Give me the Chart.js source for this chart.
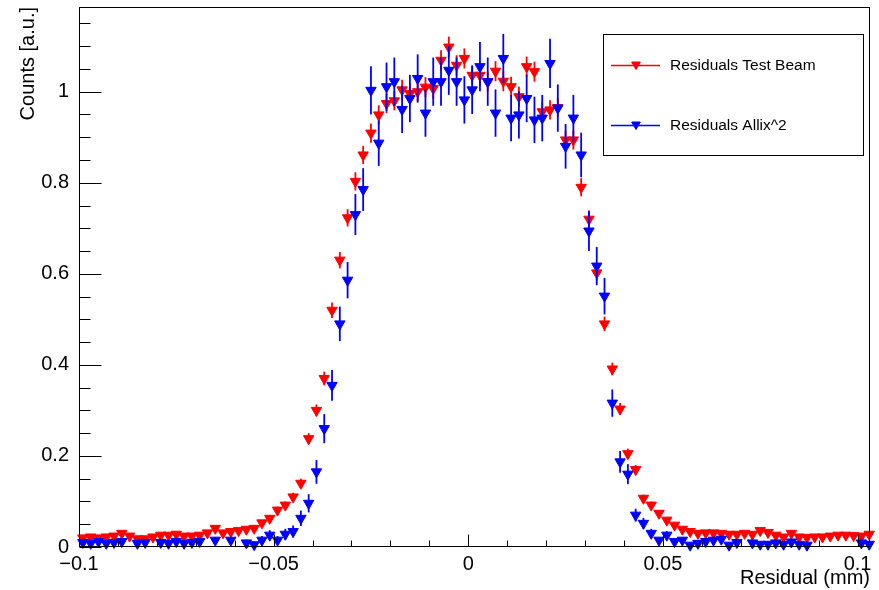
<!DOCTYPE html>
<html>
<head>
<meta charset="utf-8">
<script src="https://cdn.jsdelivr.net/npm/chart.js@4/dist/chart.umd.min.js"></script>
<style>
  html, body { margin: 0; padding: 0; background: #fff; }
  canvas { display: block; }
</style>
</head>
<body>
<canvas id="chart" width="879" height="590"></canvas>
<script>
// Histogram binning: 102 bins of width 0.002 mm starting at -0.1 mm
const BIN_LOW = -0.1;
const BIN_WIDTH = 0.002;

// Residuals Test Beam (normalised counts per bin)
const testBeamCounts = [
  0.020, 0.022, 0.020, 0.022, 0.024, 0.030, 0.024, 0.018, 0.018, 0.022,
  0.026, 0.026, 0.028, 0.024, 0.024, 0.026, 0.031, 0.041, 0.031, 0.034,
  0.036, 0.039, 0.041, 0.053, 0.063, 0.081, 0.092, 0.110, 0.140, 0.238,
  0.300, 0.370, 0.520, 0.630, 0.723, 0.803, 0.861, 0.909, 0.949, 0.974,
  0.980, 1.004, 0.996, 1.000, 1.010, 1.007, 1.069, 1.098, 1.058, 1.073,
  1.036, 1.036, 1.022, 1.045, 1.023, 1.011, 0.989, 1.055, 1.044, 0.956,
  0.960, 0.965, 0.894, 0.894, 0.790, 0.720, 0.602, 0.490, 0.391, 0.303,
  0.205, 0.170, 0.107, 0.092, 0.074, 0.059, 0.048, 0.039, 0.034, 0.030,
  0.031, 0.031, 0.030, 0.028, 0.028, 0.030, 0.028, 0.036, 0.032, 0.026,
  0.022, 0.030, 0.022, 0.021, 0.022, 0.022, 0.024, 0.026, 0.026, 0.025,
  0.024, 0.028
];
const testBeamErrors = [
  0.005, 0.005, 0.005, 0.005, 0.005, 0.005, 0.005, 0.005, 0.005, 0.005,
  0.005, 0.005, 0.005, 0.005, 0.005, 0.005, 0.005, 0.005, 0.005, 0.005,
  0.005, 0.005, 0.005, 0.006, 0.007, 0.008, 0.008, 0.009, 0.010, 0.012,
  0.013, 0.015, 0.017, 0.018, 0.019, 0.020, 0.020, 0.021, 0.021, 0.021,
  0.021, 0.022, 0.022, 0.022, 0.022, 0.022, 0.022, 0.023, 0.022, 0.022,
  0.022, 0.022, 0.022, 0.022, 0.022, 0.022, 0.022, 0.022, 0.022, 0.021,
  0.021, 0.021, 0.021, 0.021, 0.020, 0.019, 0.017, 0.016, 0.014, 0.013,
  0.011, 0.010, 0.008, 0.008, 0.007, 0.006, 0.006, 0.005, 0.005, 0.005,
  0.005, 0.005, 0.005, 0.005, 0.005, 0.005, 0.005, 0.005, 0.005, 0.005,
  0.005, 0.005, 0.005, 0.005, 0.005, 0.005, 0.005, 0.005, 0.005, 0.005,
  0.005, 0.005
];

// Residuals Allix^2 (normalised counts per bin; null = empty bin)
const allixCounts = [
  0.010, 0.008, 0.012, 0.008, 0.010, 0.012, null,  0.008, 0.010, null,
  0.010, 0.008, 0.012, 0.008, 0.010, 0.012, null,  0.015, null,  0.015,
  null,  0.009, 0.005, 0.015, 0.026, 0.015, 0.028, 0.034, 0.063, 0.096,
  0.165, 0.260, 0.355, 0.490, 0.586, 0.730, 0.785, 1.003, 0.887, 1.011,
  1.022, 0.961, 0.985, 1.029, 0.953, 1.022, 1.022, 1.047, 1.022, 0.982,
  1.004, 1.055, 1.022, 0.953, 1.073, 0.942, 0.949, 0.985, 0.938, 0.942,
  1.062, 0.964, 0.880, 0.942, 0.861, 0.694, 0.617, 0.551, 0.316, 0.187,
  0.160, 0.070, 0.052, 0.030, 0.015, 0.026, 0.012, 0.015, 0.004, 0.008,
  0.012, 0.015, 0.017, 0.004, 0.010, null,  0.009, 0.006, 0.006, 0.009,
  0.006, 0.011, 0.006, 0.004, null,  null,  null,  null,  null,  null,
  0.009, 0.006
];
const allixErrors = [
  0.007, 0.007, 0.007, 0.007, 0.007, 0.007, null,  0.007, 0.007, null,
  0.007, 0.007, 0.007, 0.007, 0.007, 0.007, null,  0.007, null,  0.007,
  null,  0.007, 0.007, 0.009, 0.011, 0.009, 0.012, 0.013, 0.017, 0.020,
  0.026, 0.032, 0.034, 0.038, 0.040, 0.045, 0.047, 0.053, 0.050, 0.053,
  0.053, 0.052, 0.052, 0.053, 0.052, 0.053, 0.053, 0.054, 0.053, 0.052,
  0.053, 0.054, 0.053, 0.052, 0.054, 0.051, 0.052, 0.052, 0.051, 0.051,
  0.054, 0.052, 0.049, 0.051, 0.049, 0.044, 0.042, 0.040, 0.030, 0.024,
  0.022, 0.014, 0.012, 0.010, 0.007, 0.009, 0.007, 0.007, 0.007, 0.007,
  0.007, 0.007, 0.007, 0.007, 0.007, null,  0.007, 0.007, 0.007, 0.007,
  0.007, 0.007, 0.007, 0.007, null,  null,  null,  null,  null,  null,
  0.007, 0.007
];

// Axis ticks and labels
const xMajorTicks = [-0.1, -0.05, 0, 0.05, 0.1];
const xTickLabels = ['\u22120.1', '\u22120.05', '0', '0.05', '0.1'];
const xMinorTicks = [-0.09, -0.08, -0.07, -0.06, -0.04, -0.03, -0.02, -0.01,
                     0.01, 0.02, 0.03, 0.04, 0.06, 0.07, 0.08, 0.09];
const yMajorTicks = [0, 0.2, 0.4, 0.6, 0.8, 1];
const yTickLabels = ['0', '0.2', '0.4', '0.6', '0.8', '1'];
const yMinorTicks = [0.05, 0.1, 0.15, 0.25, 0.3, 0.35, 0.45, 0.5, 0.55, 0.65, 0.7,
                     0.75, 0.85, 0.9, 0.95, 1.05, 1.1, 1.15];

const seriesLabels = ['Residuals Test Beam', 'Residuals Allix^2'];
const seriesColors = ['#ff0000', '#0000ff'];

const FONT = '"Liberation Sans", Arial, Helvetica, sans-serif';

function toPoints(counts) {
  return counts.map((c, i) => ({ x: BIN_LOW + BIN_WIDTH * (i + 0.5), y: c }));
}

// Vertical error bars, drawn right after each dataset so later series sit on top
const errorBarPlugin = {
  id: 'errorBars',
  afterDatasetDraw(chart, args) {
    const ds = chart.data.datasets[args.index];
    if (!ds.errors) return;
    const { ctx, chartArea } = chart;
    const yScale = chart.scales.y;
    ctx.save();
    ctx.beginPath();
    ctx.rect(chartArea.left, chartArea.top, chartArea.right - chartArea.left, chartArea.bottom - chartArea.top);
    ctx.clip();
    ctx.strokeStyle = ds.borderColor;
    ctx.lineWidth = 1.8;
    args.meta.data.forEach((el, i) => {
      const v = ds.data[i].y;
      const e = ds.errors[i];
      if (v === null || e === null || e === undefined) return;
      const x = el.x;
      ctx.beginPath();
      ctx.moveTo(x, yScale.getPixelForValue(v - e));
      ctx.lineTo(x, yScale.getPixelForValue(v + e));
      ctx.stroke();
    });
    ctx.restore();
  }
};

function downTriangle(ctx, x, y, r) {
  ctx.beginPath();
  for (let k = 0; k < 3; k++) {
    const a = Math.PI + k * 2 * Math.PI / 3;
    const px = x + Math.sin(a) * r;
    const py = y - Math.cos(a) * r;
    if (k === 0) ctx.moveTo(px, py); else ctx.lineTo(px, py);
  }
  ctx.closePath();
  ctx.fill();
  ctx.stroke();
}

// Frame box, inward tick marks and the legend box
const framePlugin = {
  id: 'frame',
  afterDatasetsDraw(chart) {
    const { ctx, chartArea: { left, right, top, bottom } } = chart;
    const xs = chart.scales.x, ys = chart.scales.y;
    ctx.save();
    ctx.strokeStyle = '#000';
    ctx.lineWidth = 1;
    const L = Math.round(left) + 0.5, R = Math.round(right) - 0.5;
    const T = Math.round(top) + 0.5, B = Math.round(bottom) - 0.5;
    ctx.strokeRect(L, T, R - L, B - T);
    ctx.beginPath();
    xMajorTicks.forEach(v => { const px = Math.round(xs.getPixelForValue(v)) + 0.5; ctx.moveTo(px, B); ctx.lineTo(px, B - 12); });
    xMinorTicks.forEach(v => { const px = Math.round(xs.getPixelForValue(v)) + 0.5; ctx.moveTo(px, B); ctx.lineTo(px, B - 6); });
    yMajorTicks.forEach(v => { const py = Math.round(ys.getPixelForValue(v)) + 0.5; ctx.moveTo(L, py); ctx.lineTo(L + 22, py); });
    yMinorTicks.forEach(v => { const py = Math.round(ys.getPixelForValue(v)) + 0.5; ctx.moveTo(L, py); ctx.lineTo(L + 11, py); });
    ctx.stroke();
    ctx.restore();
  },
  afterDraw(chart) {
    const { ctx } = chart;
    ctx.save();
    ctx.fillStyle = '#fff';
    ctx.fillRect(603, 34, 260, 121);
    ctx.strokeStyle = '#000';
    ctx.lineWidth = 1;
    ctx.strokeRect(603.5, 34.5, 260, 121);
    const rows = [65.5, 125.5];
    chart.data.datasets.forEach((ds, i) => {
      const y = rows[i];
      ctx.strokeStyle = ds.borderColor;
      ctx.fillStyle = ds.backgroundColor;
      ctx.lineWidth = 1.5;
      ctx.beginPath();
      ctx.moveTo(611, y);
      ctx.lineTo(660, y);
      ctx.stroke();
      ctx.lineWidth = 1;
      downTriangle(ctx, 636, y - 1, 5);
      ctx.fillStyle = '#000';
      ctx.font = '15.5px ' + FONT;
      ctx.textAlign = 'left';
      ctx.textBaseline = 'middle';
      ctx.fillText(ds.label, 670, y);
    });
    ctx.restore();
  }
};

const datasets = [
  { label: seriesLabels[0], data: toPoints(testBeamCounts), errors: testBeamErrors,
    borderColor: seriesColors[0], backgroundColor: seriesColors[0], order: 2 },
  { label: seriesLabels[1], data: toPoints(allixCounts), errors: allixErrors,
    borderColor: seriesColors[1], backgroundColor: seriesColors[1], order: 1 }
].map(d => Object.assign(d, {
  pointStyle: 'triangle', rotation: 180, pointRadius: 6, pointBorderWidth: 1,
  pointHoverRadius: 6, showLine: false, clip: false
}));

Chart.defaults.font.family = FONT;
Chart.defaults.color = '#000';

new Chart(document.getElementById('chart'), {
  type: 'scatter',
  data: { datasets },
  options: {
    responsive: false,
    animation: false,
    devicePixelRatio: 1,
    layout: { padding: { top: 5, right: 9, left: 0, bottom: 0 } },
    plugins: { legend: { display: false }, tooltip: { enabled: false } },
    scales: {
      x: {
        type: 'linear', min: -0.1, max: 0.1032,
        grid: { display: false, drawTicks: false },
        border: { display: false },
        afterBuildTicks: s => { s.ticks = xMajorTicks.map(v => ({ value: v })); },
        afterFit: s => { s.height = 43; s.paddingLeft = 0; s.paddingRight = 0; },
        ticks: {
          autoSkip: false, maxRotation: 0, padding: 5,
          font: { size: 20 },
          callback: v => xTickLabels[xMajorTicks.indexOf(v)]
        },
        title: { display: true, text: 'Residual (mm)', align: 'end',
                 font: { size: 20, lineHeight: 1.2 }, padding: { top: 0, bottom: 0 } }
      },
      y: {
        type: 'linear', min: 0, max: 1.186,
        grid: { display: false, drawTicks: false },
        border: { display: false },
        afterBuildTicks: s => { s.ticks = yMajorTicks.map(v => ({ value: v })); },
        afterFit: s => { s.width = 79; s.paddingTop = 0; s.paddingBottom = 0; },
        ticks: {
          autoSkip: false, padding: 10,
          font: { size: 20 },
          callback: v => yTickLabels[yMajorTicks.indexOf(v)]
        },
        title: { display: true, text: 'Counts [a.u.]', align: 'end',
                 font: { size: 20, lineHeight: 1.2 }, padding: { top: 16, bottom: 0 } }
      }
    }
  },
  plugins: [errorBarPlugin, framePlugin]
});
</script>
</body>
</html>
